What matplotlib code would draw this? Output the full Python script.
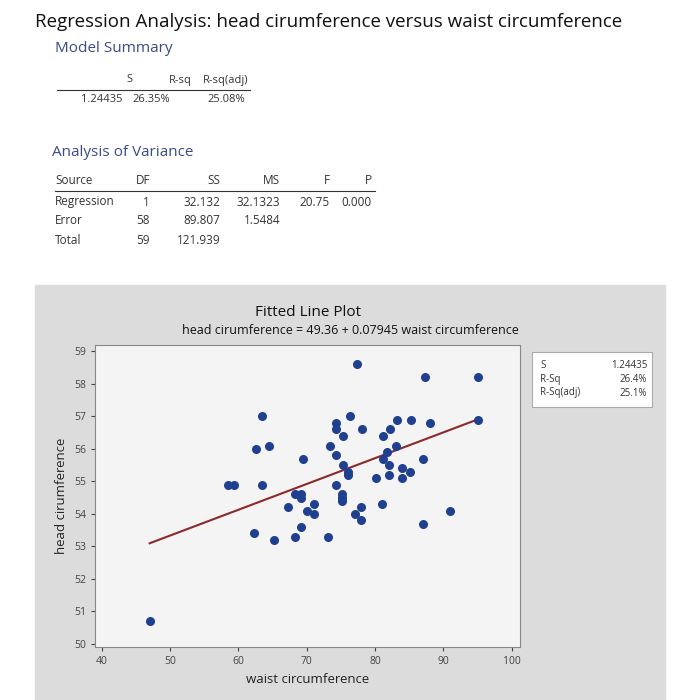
import matplotlib
matplotlib.use("Agg")
import matplotlib.pyplot as plt
import numpy as np
from matplotlib.patches import Rectangle

plt.rcParams["font.family"] = "Open Sans"

waist = [47.0,58.4,59.4,62.3,62.5,63.4,63.5,64.4,65.2,67.2,68.2,68.3,69.2,69.2,69.4,69.2,70.1,71.1,71.1,73.1,
         73.4,74.2,74.2,74.3,74.3,75.3,75.3,75.2,75.2,75.2,76.1,76.1,76.3,77.3,77.0,78.0,78.0,78.1,80.1,81.0,
         81.1,81.1,81.8,82.1,82.1,82.2,83.1,83.2,84.0,84.0,85.1,85.2,87.0,87.0,87.3,88.0,91.0,95.1,95.0,75.2]
head = [50.7,54.9,54.9,53.4,56.0,54.9,57.0,56.1,53.2,54.2,53.3,54.6,54.6,54.5,55.7,53.6,54.1,54.3,54.0,53.3,
        56.1,54.9,55.8,56.8,56.6,56.4,55.5,54.6,54.5,54.4,55.3,55.2,57.0,58.6,54.0,54.2,53.8,56.6,55.1,54.3,
        56.4,55.7,55.9,55.5,55.2,56.6,56.1,56.9,55.4,55.1,55.3,56.9,55.7,53.7,58.2,56.8,54.1,58.2,56.9,54.5]
intercept, slope = 49.36, 0.07945
xticks = [40,50,60,70,80,90,100]
yticks = [50,51,52,53,54,55,56,57,58,59]

W, H = 683, 700
fig = plt.figure(figsize=(6.83,7.0), dpi=100)
fig.patch.set_facecolor("white")
def T(x, y, s, **kw):
    fig.text(x/W, 1-y/H, s, va="center", **kw)

T(35, 22, "Regression Analysis: head cirumference versus waist circumference", fontsize=13.5, color="#111111")
T(55, 49, "Model Summary", fontsize=11, color="#3a4a8a")
for x, s in [(132,"S"),(192,"R-sq"),(248,"R-sq(adj)")]:
    T(x, 80, s, fontsize=8, ha="right", color="#333")
fig.add_artist(plt.Line2D([57/W,250/W],[1-90/H,1-90/H], color="#333", lw=0.8))
for x, s in [(123,"1.24435"),(170,"26.35%"),(245,"25.08%")]:
    T(x, 100, s, fontsize=8, ha="right", color="#333")

T(52, 152, "Analysis of Variance", fontsize=11, color="#3a4a8a")
hdr = [(55,"Source","left"),(150,"DF","right"),(220,"SS","right"),(280,"MS","right"),(330,"F","right"),(372,"P","right")]
for x, s, ha in hdr:
    T(x, 181, s, fontsize=8.5, ha=ha, color="#333")
fig.add_artist(plt.Line2D([55/W,375/W],[1-191/H,1-191/H], color="#333", lw=0.8))
rows = [["Regression","1","32.132","32.1323","20.75","0.000"],
        ["Error","58","89.807","1.5484","",""],
        ["Total","59","121.939","","",""]]
for i, r in enumerate(rows):
    y = 202 + i*19
    for (x, _, ha), s in zip(hdr, r):
        T(x, y, s, fontsize=8.5, ha=ha, color="#333")

fig.add_artist(Rectangle((35/W, 0), 630/W, 1-285/H, transform=fig.transFigure, color="#dcdcdc", zorder=-5))

ax = fig.add_axes([95/W, 1-647/H, 425/W, 302/H])
ax.set_facecolor("#f4f4f4")
ax.scatter(waist, head, s=30, color="#1f3f8f", zorder=3)
lx = np.array([min(waist), max(waist)])
ax.plot(lx, intercept + slope*lx, color="#8b2a2a", lw=1.5, zorder=2)
ax.set_xlim(39, 101.2); ax.set_ylim(49.9, 59.2)
ax.set_xticks(xticks); ax.set_yticks(yticks)
ax.tick_params(labelsize=7.5, colors="#444", length=3)
for sp in ax.spines.values(): sp.set_color("#888")
ax.set_xlabel("waist circumference", fontsize=9.5, color="#222")
ax.set_ylabel("head cirumference", fontsize=9.5, color="#222")
fig.text(308/W, 1-313/H, "Fitted Line Plot", fontsize=11, ha="center", va="center", color="#111")
fig.text(350/W, 1-331/H, "head cirumference = 49.36 + 0.07945 waist circumference", fontsize=9, ha="center", va="center", color="#111")

fig.add_artist(Rectangle((532/W, 1-407/H), 120/W, 55/H, transform=fig.transFigure, facecolor="white", edgecolor="#aaa", lw=0.8))
for i, (a, b) in enumerate([("S","1.24435"),("R-Sq","26.4%"),("R-Sq(adj)","25.1%")]):
    T(540, 365+i*14, a, fontsize=7, color="#333")
    T(647, 365+i*14, b, fontsize=7, ha="right", color="#333")

fig.savefig("out.png", dpi=100)
